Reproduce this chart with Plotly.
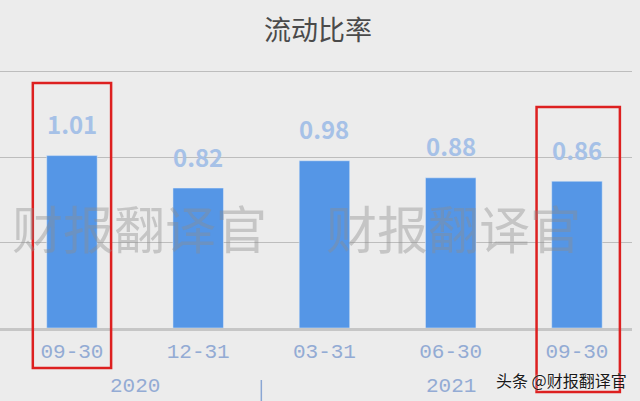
import plotly.graph_objects as go

# 流动比率 by quarter end
quarters = ["09-30", "12-31", "03-31", "06-30", "09-30"]
years = ["2020", "2020", "2021", "2021", "2021"]
ratio = [1.01, 0.82, 0.98, 0.88, 0.86]
highlight = [0, 4]  # boxed in red

FONT = "Noto Sans CJK SC"
BAR = "#5596E6"
LABEL = "#A6C1E7"
TICK = "#93ABD4"

xs = list(range(len(quarters)))

fig = go.Figure()
fig.add_trace(go.Bar(x=xs, y=ratio, marker_color=BAR, width=0.4, hoverinfo="skip"))

# value labels floating above bars
for i, v in zip(xs, ratio):
    fig.add_annotation(x=i, y=v, text="%.2f" % v, showarrow=False, yanchor="middle", yshift=32,
                       font=dict(family=FONT, size=24, color=LABEL, weight="bold"))

# year groups under the quarter labels
groups = []
for i, y in enumerate(years):
    if groups and groups[-1][0] == y:
        groups[-1][1].append(i)
    else:
        groups.append((y, [i]))
for n, (y, idx) in enumerate(groups):
    fig.add_annotation(x=sum(idx) / len(idx), xref="x", y=-0.225, yref="paper", text=y,
                       xanchor="center", yanchor="middle", showarrow=False,
                       font=dict(family="Liberation Mono", size=21, color=TICK))
    if n > 0:
        sep = idx[0] - 0.5
        fig.add_shape(type="line", xref="x", yref="paper", x0=sep, x1=sep, y0=-0.2, y1=-0.29,
                      line=dict(color="#8AA6D3", width=1.5))

# watermarks
for px_ in (0.2215, 0.718):
    fig.add_annotation(x=px_, y=0.388, xref="paper", yref="paper", text="财报翻译官", showarrow=False,
                       xanchor="center", yanchor="middle",
                       font=dict(family=FONT, size=51, color="rgba(140,140,140,0.4)"))
fig.add_annotation(x=0.888, y=-0.2, xref="paper", yref="paper", text="头条 @财报翻译官", showarrow=False,
                   xanchor="center", yanchor="middle",
                   font=dict(family=FONT, size=16, color="#1a1a1a", shadow="0 0 2px #ffffff"))

# red highlight boxes
fig.add_shape(type="rect", xref="x", yref="paper", x0=highlight[0] - 0.31, x1=highlight[0] + 0.31,
              y0=-0.154, y1=0.942, line=dict(color="#DD2020", width=2.5))
fig.add_shape(type="rect", xref="x", yref="paper", x0=highlight[1] - 0.32, x1=highlight[1] + 0.34,
              y0=-0.246, y1=0.85, line=dict(color="#DD2020", width=2.5))

fig.update_layout(
    width=640, height=401,
    margin=dict(l=0, r=8, t=68, b=73),
    paper_bgcolor="#ECECEC", plot_bgcolor="#ECECEC",
    showlegend=False,
    title=dict(text="流动比率", x=0.497, xanchor="center", y=0.923, yanchor="middle",
               font=dict(family=FONT, size=27, color="#4A4A4A")),
    xaxis=dict(range=[-0.570, 4.436], tickvals=xs, ticktext=quarters, showgrid=False,
               showline=True, linecolor="#C6C6C6", linewidth=3, ticks="", ticklabelstandoff=2,
               tickfont=dict(family="Liberation Mono", size=21, color=TICK)),
    yaxis=dict(range=[0, 1.5234], dtick=0.5, showticklabels=False, zeroline=False,
               gridcolor="#BDBDBD", gridwidth=1),
)

# page body has a default margin; drop it so the figure sits at the window's corner
fig.write_html("out.html", config={"displayModeBar": False},
               post_script="document.body.style.margin='0px';")
